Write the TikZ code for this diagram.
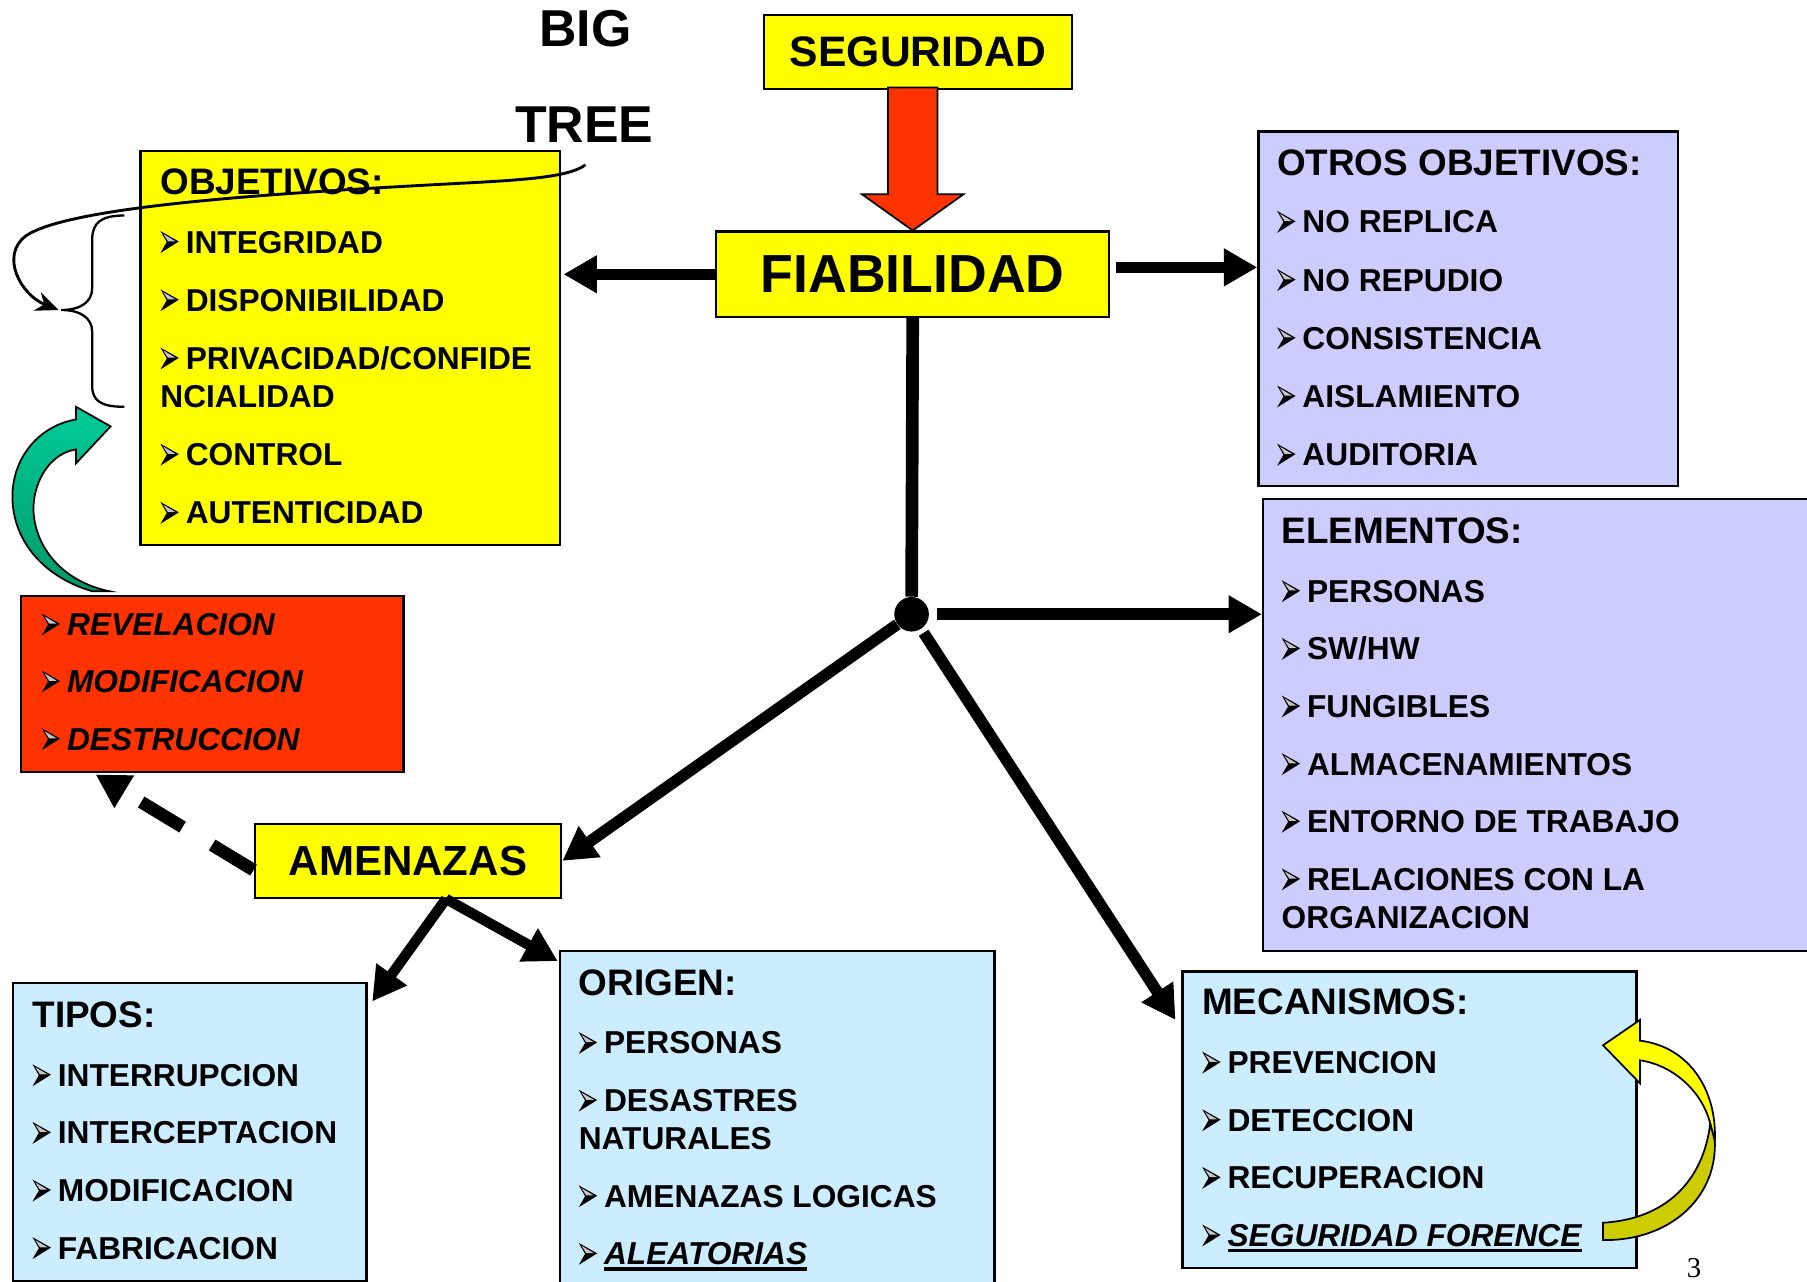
\documentclass[tikz,border=0pt]{standalone}
\usepackage{fontspec}
\setmainfont{Liberation Sans}
\newfontfamily\pagefont{Liberation Serif}
\usetikzlibrary{arrows.meta}
\usetikzlibrary{positioning}

\definecolor{boxyellow}{HTML}{FFFF00}
\definecolor{boxred}{HTML}{FF3300}
\definecolor{boxlilac}{HTML}{CCCCFF}
\definecolor{boxblue}{HTML}{CCECFF}
\definecolor{tealup}{HTML}{00CC99}
\definecolor{tealdown}{HTML}{009966}
\definecolor{yellowdark}{HTML}{CCCC00}

\newsavebox\bulbox
\newcommand{\hdr}{\fontsize{32}{38}\selectfont}
\newcommand{\bul}{\makebox[22pt][l]{\usebox\bulbox}}
\newcommand{\undl}[1]{\setbox0=\hbox{#1}\rlap{\rule[-5pt]{\wd0}{3pt}}\box0}

\tikzset{
  box/.style={draw, line width=2pt, anchor=north west, inner sep=0pt},
  list/.style={anchor=north west, align=left, inner sep=0pt,
    font=\fontsize{27.5}{33}\selectfont\bfseries},
  fat/.style={line width=10pt, -{Triangle[length=29pt,width=31pt]}},
}

\begin{document}
\sbox\bulbox{\pgfpicture
  \pgfpathmoveto{\pgfpoint{0pt}{0pt}}
  \pgfpathlineto{\pgfpoint{16pt}{10pt}}
  \pgfpathlineto{\pgfpoint{0pt}{19pt}}
  \pgfpathlineto{\pgfpoint{5.5pt}{9.5pt}}
  \pgfpathclose
  \pgfusepath{fill}
  \pgfsetfillcolor{gray!45}
  \pgfpathmoveto{\pgfpoint{2.5pt}{16.5pt}}
  \pgfpathlineto{\pgfpoint{13pt}{10.2pt}}
  \pgfpathlineto{\pgfpoint{6.5pt}{10.2pt}}
  \pgfpathclose
  \pgfusepath{fill}
\endpgfpicture}
\begin{tikzpicture}[x=1pt,y=1pt]
  \useasboundingbox (0,0) rectangle (1568,-1112);

  \node[font=\fontsize{45}{50}\selectfont\bfseries] (big) at (508,-25) {BIG};
  \node[font=\fontsize{45}{50}\selectfont\bfseries] (tree) at (507,-108) {TREE};

  \node[box, fill=boxyellow, minimum width=267pt, minimum height=64pt,
    font=\fontsize{37}{40}\selectfont\bfseries] (seg) at (662,-12) {SEGURIDAD};
  \node[box, fill=boxyellow, minimum width=341pt, minimum height=74pt,
    font=\fontsize{46.5}{50}\selectfont\bfseries] (fiab) at (620.5,-200) {FIABILIDAD};
  \node[box, fill=boxyellow, minimum width=266pt, minimum height=64pt,
    font=\fontsize{36.5}{40}\selectfont\bfseries] (amen) at (220,-714) {AMENAZAS};

  \node[box, fill=boxyellow, minimum width=364pt, minimum height=342pt] (obj) at (121,-130) {};
  \node[list] (objtxt) at (139,-146) {{\hdr OBJETIVOS:}\\[18pt]
    \bul INTEGRIDAD\\[17.5pt]
    \bul DISPONIBILIDAD\\[17.5pt]
    \bul PRIVACIDAD/CONFIDE\\
    NCIALIDAD\\[17.5pt]
    \bul CONTROL\\[17.5pt]
    \bul AUTENTICIDAD};

  \node[box, fill=boxred, minimum width=332pt, minimum height=153pt] (red) at (17,-516) {};
  \node[list] (redtxt) at (36,-532) {\bul\textit{REVELACION}\\[16.5pt]
    \bul\textit{MODIFICACION}\\[17pt]
    \bul\textit{DESTRUCCION}};

  \node[box, fill=boxlilac, minimum width=364pt, minimum height=308pt] (otros) at (1091,-113) {};
  \node[list] (otrostxt) at (1108,-130) {{\hdr OTROS OBJETIVOS:}\\[16.5pt]
    \bul NO REPLICA\\[17.5pt]
    \bul NO REPUDIO\\[17.5pt]
    \bul CONSISTENCIA\\[17.5pt]
    \bul AISLAMIENTO\\[17.5pt]
    \bul AUDITORIA};

  \node[box, fill=boxlilac, minimum width=500pt, minimum height=392pt] (elem) at (1095,-432) {};
  \node[list] (elemtxt) at (1112,-449) {{\hdr ELEMENTOS:}\\[18pt]
    \bul PERSONAS\\[17pt]
    \bul SW/HW\\[17pt]
    \bul FUNGIBLES\\[17pt]
    \bul ALMACENAMIENTOS\\[17pt]
    \bul ENTORNO DE TRABAJO\\[17pt]
    \bul RELACIONES CON LA\\
    ORGANIZACION};

  \node[box, fill=boxblue, minimum width=394pt, minimum height=257pt] (mec) at (1025,-842) {};
  \node[list] (mectxt) at (1043,-858) {{\hdr MECANISMOS:}\\[18pt]
    \bul PREVENCION\\[17pt]
    \bul DETECCION\\[17pt]
    \bul RECUPERACION\\[17pt]
    \bul\undl{\textit{SEGURIDAD FORENCE}}};

  \node[box, fill=boxblue, minimum width=307pt, minimum height=259pt] (tipos) at (10,-852) {};
  \node[list] (tipostxt) at (28,-869) {{\hdr TIPOS:}\\[18pt]
    \bul INTERRUPCION\\[17pt]
    \bul INTERCEPTACION\\[17pt]
    \bul MODIFICACION\\[17pt]
    \bul FABRICACION};

  \node[box, fill=boxblue, minimum width=377pt, minimum height=300pt] (orig) at (485,-824) {};
  \node[list] (origtxt) at (502,-841) {{\hdr ORIGEN:}\\[18pt]
    \bul PERSONAS\\[17pt]
    \bul DESASTRES\\
    NATURALES\\[17pt]
    \bul AMENAZAS LOGICAS\\[17pt]
    \bul\undl{\textit{ALEATORIAS}}};

  \node[circle, fill, inner sep=0pt, minimum size=30pt] (dot) at (791,-533) {};
  \node[font=\pagefont\fontsize{25}{27}\selectfont, anchor=north] (pagenum) at (1470,-1088) {3};

  \draw[fill=boxred, line width=1.5pt] (fiab.north) -- ++(44,31.4) -- ++(-22.5,0) -- ++(0,92.6)
    -- ++(-43,0) -- ++(0,-92.6) -- ++(-22.5,0) -- cycle;

  \draw[fat, shorten >=2pt] (fiab.west) -- (fiab.west -| obj.east);
  \draw[fat, shorten <=5pt] ([yshift=6pt]fiab.east) -- ([yshift=6pt]fiab.east -| otros.west);
  \draw[line width=11pt] (fiab.south) -- (dot);
  \draw[fat, shorten <=7pt] (dot) -- (dot -| elem.west);
  \draw[fat] (dot) -- (amen.east);
  \draw[fat, shorten <=4pt] (dot) -- ([shift={(-5,-43)}]mec.north west);
  \draw[fat, line width=9pt] ([xshift=33pt]amen.south) -- ([shift={(4,-17)}]tipos.north east);
  \draw[fat, line width=9pt] ([xshift=33pt]amen.south) -- ([shift={(-1,-10)}]orig.north west);
  \draw[fat, line width=11pt, dash pattern=on 42pt off 30pt] ([yshift=-8pt]amen.west)
    -- ([xshift=66pt,yshift=-1pt]red.south west);

  \draw[line width=2pt] (108,-187) .. controls (88,-187) and (80,-193) .. (80,-208) -- (80,-250)
    .. controls (80,-262) and (70,-269) .. (53,-269)
    .. controls (70,-269) and (80,-276) .. (80,-288) -- (80,-335)
    .. controls (80,-348) and (88,-353) .. (108,-353);
  \coordinate (tail) at (508,-143);
  \coordinate (bracetip) at (51,-269);
  \draw[line width=2.5pt, -{Stealth[length=20pt,width=17pt]}] (tail)
    .. controls (495,-153) and (460,-156) .. (400,-159)
    .. controls (250,-167) and (60,-178) .. (22,-205)
    .. controls (0,-222) and (18,-256) .. (bracetip);

  \shadedraw[top color=tealup, bottom color=tealdown, line width=1.5pt]
    (80,-513) .. controls (35,-500) and (8,-465) .. (11,-425)
    .. controls (14,-390) and (40,-368) .. (66,-364)
    -- (66,-353) -- (96,-370) -- (66,-402) -- (66,-390)
    .. controls (45,-393) and (30,-415) .. (29,-440)
    .. controls (29,-475) and (55,-505) .. (95,-513) -- cycle;

  \filldraw[fill=boxyellow, line width=1.5pt] (1488,-990)
    .. controls (1490,-945) and (1465,-908) .. (1423,-903)
    -- (1423,-885) -- (1391,-907) -- (1423,-940) -- (1423,-920)
    .. controls (1455,-925) and (1478,-950) .. (1484,-975) -- cycle;
  \filldraw[fill=yellowdark, line width=1.5pt] (1484,-975)
    .. controls (1478,-1025) and (1445,-1058) .. (1391,-1061) -- (1391,-1076)
    .. controls (1448,-1077) and (1490,-1040) .. (1488,-990) -- cycle;
\end{tikzpicture}
\end{document}
